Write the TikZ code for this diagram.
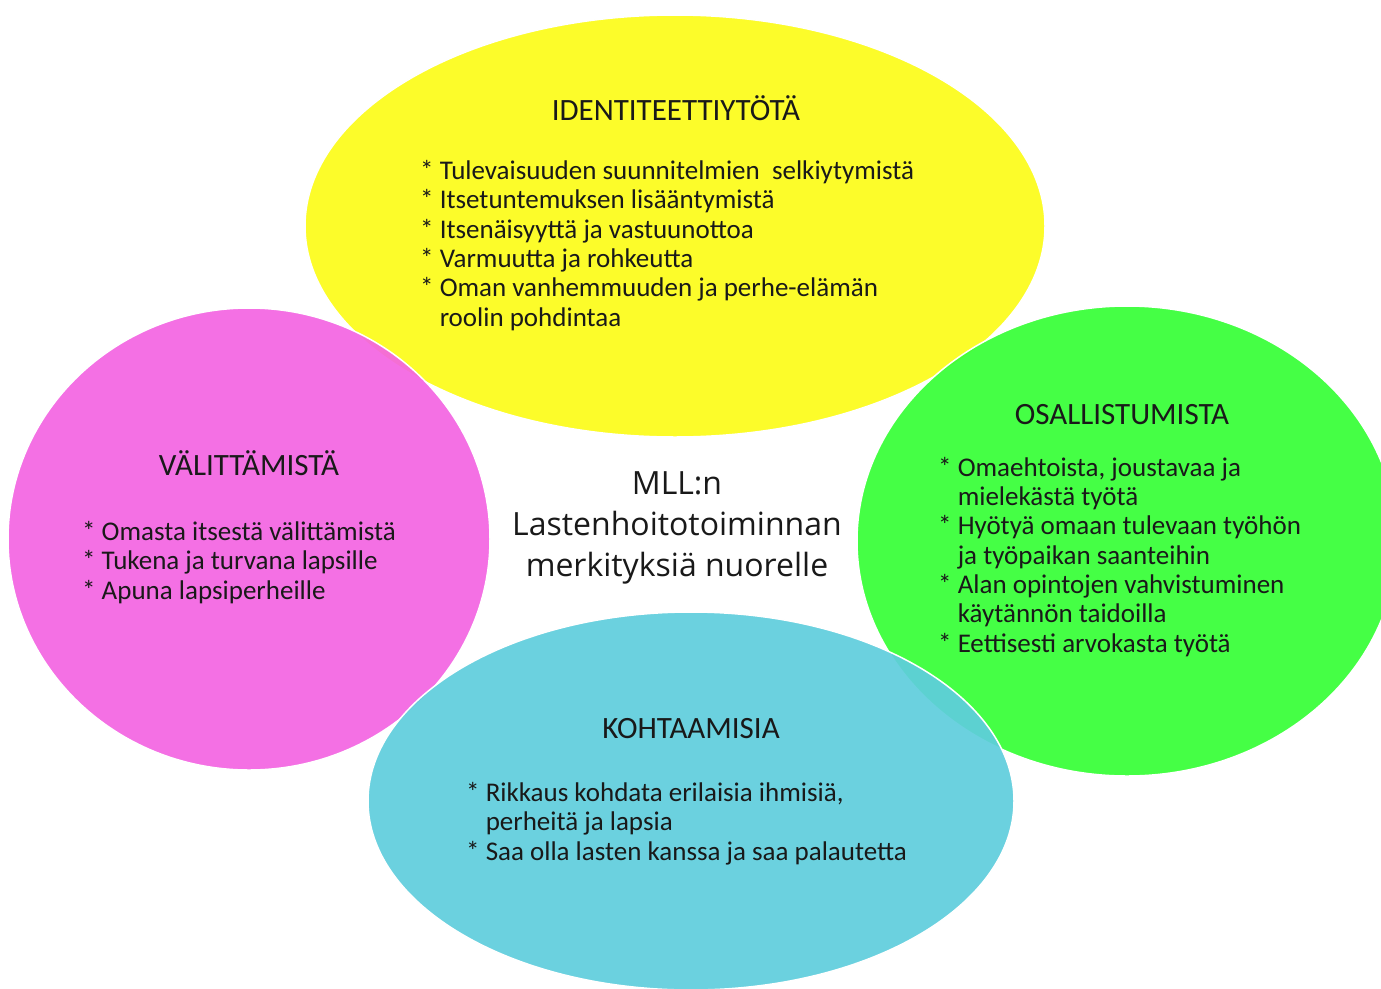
\documentclass[tikz,border=0pt]{standalone}
\usepackage{fontspec}
\setmainfont{Carlito}
\newfontfamily\centerfont{Open Sans}
\definecolor{cyel}{RGB}{252,252,24}
\definecolor{cpink}{RGB}{244,100,226}
\definecolor{cgreen}{RGB}{54,255,54}
\definecolor{cblue}{RGB}{95,206,221}
\tikzset{
  blob/.style={draw=white, line width=1.5pt, fill opacity=0.92},
  ttl/.style={anchor=base, inner sep=0pt, font=\fontsize{31}{34}\selectfont, text=black!90},
  bul/.style={anchor=base west, inner sep=0pt, align=left, font=\fontsize{27}{29.3}\selectfont, text=black!90},
  ctr/.style={anchor=base, inner sep=0pt, align=center, font=\centerfont\fontsize{32}{41}\selectfont, text=black!90}
}
\newcommand{\hang}{\hphantom{*~}}
\begin{document}
\begin{tikzpicture}[x=1pt,y=-1pt]
\useasboundingbox (0,0) rectangle (1381,988);
\clip (0,0) rectangle (1381,988);
\fill[white] (0,0) rectangle (1381,988);
\filldraw[blob, fill=cyel] (675,226) ellipse [x radius=370pt, y radius=211pt];
\filldraw[blob, fill=cpink] (249,539) ellipse [x radius=241pt, y radius=231pt];
\filldraw[blob, fill=cgreen] (1127,541) ellipse [x radius=270pt, y radius=235pt];
\filldraw[blob, fill=cblue] (691,801) ellipse [x radius=323pt, y radius=189pt];
% yellow (anchor = baseline of last line)
\node[ttl] (t1) at (676,120) {IDENTITEETTIYTÖTÄ};
\node[bul] (b1) at (420,326) {*~Tulevaisuuden suunnitelmien\ \ selkiytymistä\\*~Itsetuntemuksen lisääntymistä\\*~Itsenäisyyttä ja vastuunottoa\\*~Varmuutta ja rohkeutta\\*~Oman vanhemmuuden ja perhe-elämän\\\hang roolin pohdintaa};
% pink
\node[ttl] (t2) at (249,475) {VÄLITTÄMISTÄ};
\node[bul] (b2) at (82,599) {*~Omasta itsestä välittämistä\\*~Tukena ja turvana lapsille\\*~Apuna lapsiperheille};
% green
\node[ttl] (t3) at (1122,424) {OSALLISTUMISTA};
\node[bul] (b3) at (938,652) {*~Omaehtoista, joustavaa ja\\\hang mielekästä työtä\\*~Hyötyä omaan tulevaan työhön\\\hang ja työpaikan saanteihin\\*~Alan opintojen vahvistuminen\\\hang käytännön taidoilla\\*~Eettisesti arvokasta työtä};
% blue
\node[ttl] (t4) at (691,738) {KOHTAAMISIA};
\node[bul] (b4) at (466,860) {*~Rikkaus kohdata erilaisia ihmisiä,\\\hang perheitä ja lapsia\\*~Saa olla lasten kanssa ja saa palautetta};
% center
\node[ctr] (c) at (677,576) {MLL:n\\Lastenhoitotoiminnan\\merkityksiä nuorelle};
\end{tikzpicture}
\end{document}
